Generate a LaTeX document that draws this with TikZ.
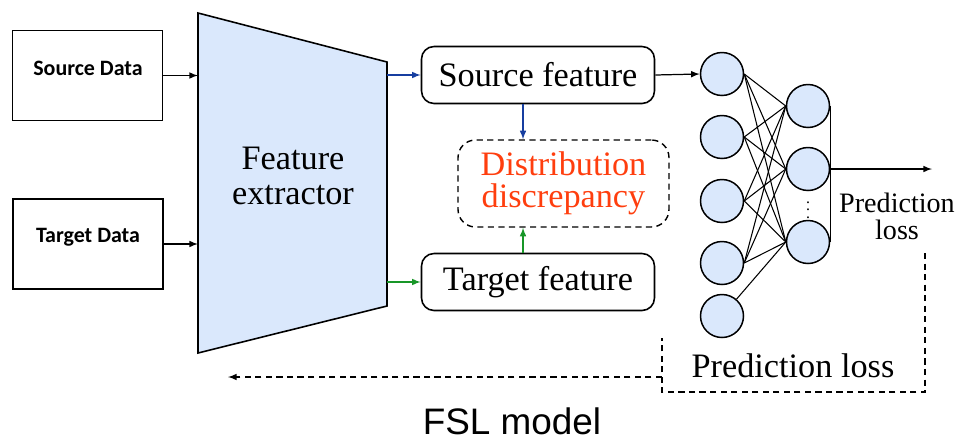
\documentclass[tikz,border=0pt]{standalone}
\usepackage{fontspec}
\setmainfont{Liberation Serif}
\newfontfamily\calibri{Carlito}
\newfontfamily\arialsf{Liberation Sans}
\usepackage{tikz}
\usetikzlibrary{arrows,shapes}
\definecolor{extblue}{RGB}{218,232,252}
\definecolor{discred}{RGB}{255,62,14}
\definecolor{srcblue}{RGB}{22,62,160}
\definecolor{tgtgreen}{RGB}{24,150,40}
\tikzstyle{databox}=[draw,line width=1pt,minimum width=3cm,minimum height=1.8cm,inner sep=0pt]
\tikzstyle{datalbl}=[font=\calibri\bfseries\fontsize{12.5}{14}\selectfont,inner sep=0pt]
\tikzstyle{featbox}=[draw,line width=0.9pt,rounded corners=0.25cm,minimum width=4.66cm,minimum height=1.14cm,font=\fontsize{19.5}{22}\selectfont]
\tikzstyle{neuron}=[circle,draw,line width=0.85pt,fill=extblue,minimum size=0.86cm,inner sep=0pt]
\tikzstyle{edge} = [draw,line width=0.6pt,-]
\tikzstyle{arr} = [draw,line width=0.7pt,-latex]
\tikzstyle{dashline} = [draw,line width=0.7pt,dash pattern=on 3.5pt off 2.5pt]

\begin{document}
\begin{tikzpicture}[x=0.02cm,y=-0.02cm]
    \useasboundingbox (0,0) rectangle (960,440);

    % Input data boxes
    \node[databox] (src) at (87.5,75.5) {};
    \node[datalbl] (srclbl) at (88,68) {Source Data};
    \node[databox] (tgt) at (88,244) {};
    \node[datalbl] (tgtlbl) at (88,237) {Target Data};

    % The feature extractor as a trapezium
    \coordinate (extTL) at (198,13);
    \coordinate (extTR) at (387,62);
    \coordinate (extBR) at (387,306);
    \coordinate (extBL) at (198,353);
    \filldraw[fill=extblue,line width=0.9pt] (extTL) -- (extTR) -- (extBR) -- (extBL) -- cycle;
    \node[align=center,font=\fontsize{19.5}{19.8}\selectfont] (fe) at (293,176) {Feature\\extractor};

    \path[arr] (src.east) -- (src.east -| extTL);
    \path[arr] (tgt.east) -- (tgt.east -| extBL);

    % Features and the discrepancy between them
    \node[featbox] (sf) at (538,75) {Source feature};
    \node[featbox] (tf) at (538,282) {Target feature};
    \node[draw,line width=0.8pt,dash pattern=on 3.5pt off 2.5pt,rounded corners=0.35cm,
          minimum width=4.22cm,minimum height=1.74cm,align=center,text=discred,inner sep=2pt,
          font=\fontsize{19.5}{18.5}\selectfont] (dd) at (563.5,183.5) {Distribution\\discrepancy};

    \path[arr,srcblue] (sf.west -| extTR) -- (sf.west);
    \path[arr,tgtgreen] (tf.west -| extBR) -- (tf.west);
    \path[arr,srcblue] ([xshift=-0.3cm]sf.south) -- ([xshift=-0.3cm]sf.south |- dd.north);
    \path[arr,tgtgreen] ([xshift=-0.3cm]tf.north) -- ([xshift=-0.3cm]tf.north |- dd.south);

    % Draw the classifier network
    % First we draw the neurons
    \foreach \pos/\name in {{(722,74)/l1}, {(722,137)/l2}, {(722,201)/l3}, {(722,263)/l4}, {(722,316)/l5},
                            {(808,106)/r1}, {(808,169)/r2}, {(808,242)/r3}}
        \node[neuron] (\name) at \pos {};
    \node[inner sep=0pt,font=\fontsize{9}{10}\selectfont] (dots) at (808,205) {$\vdots$};

    % Connect neurons with edges
    \foreach \source/ \dest in {l1/r1, l1/r2, l1/r3, l2/r1, l2/r2, l2/r3, l3/r1, l3/r2, l3/r3, l4/r1, l4/r2, l4/r3}
        \path[edge] (\source.east) -- (\dest.west);
    \path[edge] (l5) -- (r3.west);
    \path[line width=0.85pt,draw] (r1.east) -- (r3.east);

    \path[arr] (sf.east) -- (l1.west);
    \coordinate (predend) at (932,169);
    \path[arr] (r2.east) -- (predend);
    \node[align=center,font=\fontsize{16}{15.5}\selectfont] (predlbl) at (897,216) {Prediction\\loss};

    % Loss fed back to the extractor
    \coordinate (lossTR) at (925,253);
    \coordinate (lossBR) at (925,392);
    \coordinate (lossBL) at (662,392);
    \coordinate (lossTL) at (662,338);
    \path[dashline] (lossTR) -- (lossBR) -- (lossBL) -- (lossTL);
    \node[font=\fontsize{19.5}{22}\selectfont] (losslbl) at (793,366) {Prediction loss};
    \coordinate (backstart) at (662,377);
    \coordinate (backend) at (228,377);
    \path[dashline,-latex] (backstart) -- (backend);

    \node[font=\arialsf\fontsize{21}{24}\selectfont] (fsl) at (512,421) {FSL model};
\end{tikzpicture}
\end{document}
